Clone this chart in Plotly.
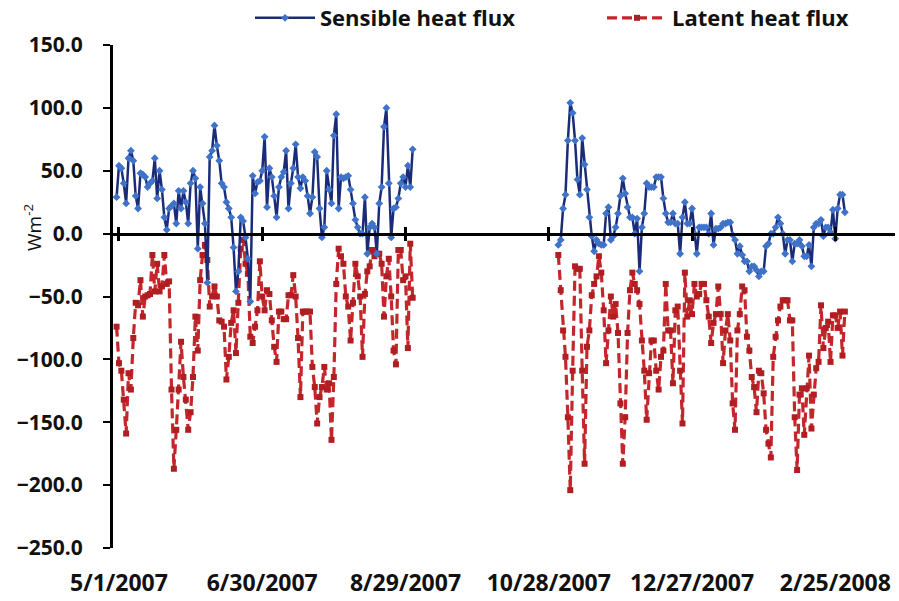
import pandas as pd
import plotly.graph_objects as go

# ---- data ----
seg1_start = "2007-04-30"
seg2_start = "2007-11-01"
gap_date = "2007-10-01"

sensible_seg1 = [29, 54, 52, 40, 24, 60, 66, 58, 30, 20,
                 48, 47, 45, 37, 40, 42, 60, 28, 50, 35,
                 13, 3, 20, 22, 24, 8, 34, 20, 34, 25,
                 8, 40, 50, 44, -12, 37, 24, 8, -39, 61,
                 66, 86, 70, 58, 40, 37, 25, 20, 13, -11,
                 -46, -30, 13, 10, -3, -20, -54, 46, 32, 41,
                 42, 50, 77, 21, 52, 45, 30, 13, 37, 45,
                 49, 66, 20, 40, 52, 71, 45, 36, 45, 42,
                 30, 16, 29, 65, 61, 20, -3, 5, 50, 35,
                 24, 78, 95, 20, 45, 44, 45, 46, 35, 24,
                 11, 5, 0, 0, 29, -16, 5, 8, 5, -16,
                 24, 37, 85, 100, 40, -3, 20, 21, 28, 40,
                 45, 37, 54, 37, 67]

latent_seg1 = [-74, -103, -109, -132, -159, -111, -124, -83, -55, -57,
               -37, -66, -50, -49, -48, -17, -46, -24, -46, -42,
               -17, -40, -38, -124, -187, -156, -124, -86, -114, -132,
               -156, -142, -114, -66, -93, -37, -17, -9, -21, -58,
               -50, -42, -50, -69, -70, -74, -116, -98, -71, -61,
               -95, -55, -12, -5, -24, -32, -82, -87, -74, -61,
               -22, -50, -61, -45, -48, -69, -90, -102, -62, -62,
               -68, -68, -49, -49, -33, -50, -83, -130, -62, -62,
               -62, -62, -106, -122, -151, -130, -122, -106, -124, -119,
               -164, -114, -40, -12, -18, -24, -50, -58, -85, -55,
               -24, -34, -50, -98, -48, -30, -26, -13, -18, -16,
               -16, -24, -66, -34, -20, -50, -93, -104, -13, -13,
               -37, -34, -91, -8, -51]

sensible_seg2 = [-9, -5, 20, 31, 74, 104, 96, 74, 43, 31,
                 76, 55, 35, 13, -2, -14, -5, -8, -9, -9,
                 16, 21, -5, -2, 5, 16, 30, 44, 32, 21,
                 13, 13, 0, 12, -30, 5, 16, 40, 37, 37,
                 37, 45, 45, 45, 28, 16, 9, 9, 16, 8,
                 8, -16, 13, 25, 8, 8, 20, 0, -16, 5,
                 5, 5, 5, 0, 16, -9, 4, 4, 5, 8,
                 8, 9, 9, -1, -5, -16, -10, -17, -22, -22,
                 -30, -26, -26, -29, -34, -30, -30, -10, -8, 0,
                 0, 5, 13, 8, 0, -16, -5, -5, -22, -8,
                 -8, -5, -10, -18, -18, -9, -26, 5, 8, 8,
                 11, -2, 5, 5, 1, 19, -4, 20, 31, 31,
                 17]

latent_seg2 = [-17, -45, -77, -98, -146, -204, -109, -26, -28, -28,
               -109, -183, -90, -77, -49, -40, -34, -18, -31, -61,
               -103, -77, -50, -66, -56, -79, -135, -183, -146, -79,
               -45, -31, -40, -45, -56, -85, -109, -148, -111, -85,
               -85, -109, -124, -98, -93, -40, -77, -77, -119, -61,
               -58, -109, -151, -31, -66, -53, -64, -40, -50, -48,
               -40, -40, -53, -66, -87, -71, -64, -42, -64, -103,
               -77, -64, -85, -135, -156, -77, -64, -42, -45, -82,
               -93, -114, -122, -142, -109, -111, -127, -156, -167, -178,
               -98, -82, -69, -58, -53, -53, -53, -69, -69, -146,
               -188, -128, -123, -160, -123, -97, -155, -128, -107, -102,
               -57, -91, -75, -70, -102, -65, -65, -75, -62, -97,
               -62]

tick_dates = ["2007-05-01", "2007-06-30", "2007-08-29", "2007-10-28", "2007-12-27", "2008-02-25"]
tick_labels = ["5/1/2007", "6/30/2007", "8/29/2007", "10/28/2007", "12/27/2007", "2/25/2008"]
x_range = ["2007-04-28 12:00", "2008-03-21"]
y_range = [-250, 150]

# ---- build ----
d1 = list(pd.date_range(seg1_start, periods=len(sensible_seg1), freq="D"))
d2 = list(pd.date_range(seg2_start, periods=len(sensible_seg2), freq="D"))
x_all = d1 + [pd.Timestamp(gap_date)] + d2
sens_all = sensible_seg1 + [None] + sensible_seg2
lat_all = latent_seg1 + [None] + latent_seg2

FONT = "Open Sans"

fig = go.Figure()
fig.add_trace(go.Scatter(
    x=x_all, y=lat_all, name="Latent heat flux", mode="lines+markers",
    xaxis="x", yaxis="y",
    line=dict(color="#C3262B", width=3.2, dash="10px,5px"),
    marker=dict(symbol="square", size=6, color="#B01E22"),
    connectgaps=False,
))
fig.add_trace(go.Scatter(
    x=x_all, y=sens_all, name="Sensible heat flux", mode="lines+markers",
    xaxis="x2", yaxis="y",
    line=dict(color="#1A2C78", width=2.5),
    marker=dict(symbol="diamond", size=6, color="#3F72C9"),
    connectgaps=False,
))

zero_pos = (0 - y_range[0]) / (y_range[1] - y_range[0])

fig.update_layout(
    width=899, height=601,
    margin=dict(l=113, r=4, t=45, b=53, autoexpand=False),
    paper_bgcolor="white", plot_bgcolor="white",
    showlegend=True,
    legend=dict(orientation="h", x=(250 - 113) / 782, xanchor="left",
                y=(548 - 18) / 503, yanchor="middle",
                traceorder="reversed", itemwidth=60, entrywidth=277,
                font=dict(family=FONT, size=22, color="#111111", weight="bold"),
                bgcolor="rgba(0,0,0,0)"),
    xaxis=dict(type="date", range=x_range, showgrid=False, zeroline=False, showline=False,
               tickmode="array", tickvals=tick_dates, ticktext=tick_labels,
               ticks="outside", ticklen=14, tickcolor="rgba(0,0,0,0)",
               tickfont=dict(family=FONT, size=23, color="#111111", weight="bold")),
    xaxis2=dict(type="date", range=x_range, overlaying="x", anchor="free", position=zero_pos,
                showgrid=False, zeroline=False, showline=True, linecolor="black", linewidth=2.5,
                tickmode="array", tickvals=tick_dates, showticklabels=False,
                ticks="outside", ticklen=6, tickwidth=2.5, tickcolor="black",
                minor=dict(tickvals=tick_dates, ticks="inside", ticklen=6, tickwidth=2.5,
                           tickcolor="black", showgrid=False)),
    yaxis=dict(range=y_range, dtick=50, tick0=0, tickformat=".1f", showgrid=False,
               zeroline=False, showline=True, linecolor="black", linewidth=3,
               ticks="outside", ticklen=7, tickwidth=2, tickcolor="black",
               ticklabelstandoff=16,
               tickfont=dict(family=FONT, size=21, color="#111111", weight="bold")),
    annotations=[dict(text="Wm<sup>-2</sup>", xref="paper", yref="paper",
                      x=(33 - 113) / 782, y=(548 - 228) / 503, textangle=-90,
                      showarrow=False, xanchor="center", yanchor="middle",
                      font=dict(family=FONT, size=19, color="#111111"))],
)

fig.write_html("out.html")
